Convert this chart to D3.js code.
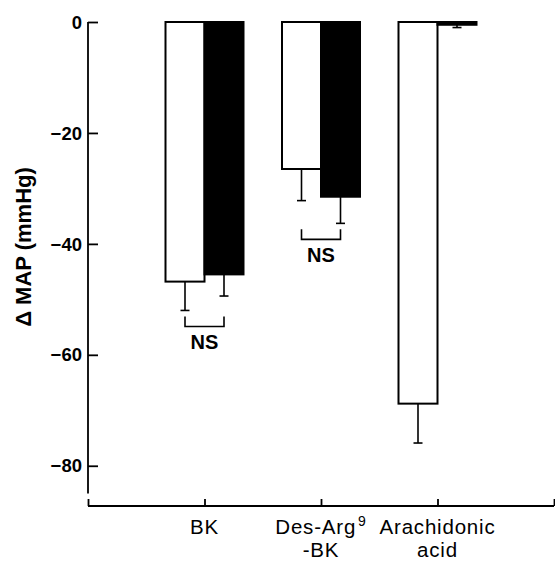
<!DOCTYPE html>
<html>
<head>
<meta charset="utf-8">
<script src="https://cdn.jsdelivr.net/npm/d3@7"></script>
<style>
  html, body { margin: 0; padding: 0; background: #fff; }
  svg { display: block; }
</style>
</head>
<body>
<svg id="chart" width="555" height="562"></svg>
<script>
// data
const categories = ['BK', 'Des-Arg9-BK', 'Arachidonic acid']
const categoryLines = [['BK'], ['Des-Arg^9', '-BK'], ['Arachidonic', 'acid']]
const controlValues = [-46.8, -26.5, -68.8]
const controlErrors = [5.2, 5.7, 7.1]
const treatedValues = [-45.5, -31.5, -0.5]
const treatedErrors = [3.9, 4.8, 0.5]
const nsGroups = [0, 1]
const yTicks = [0, -20, -40, -60, -80]

const width = 555
const height = 562
const font = "'Liberation Sans', Arial, sans-serif"

const svg = d3.select('#chart')

// scales
const x = d3.scaleLinear().domain([0, categories.length + 1]).range([88, 554])
const y = d3.scaleLinear().domain([0, -85]).range([22, 493.5])
const barW = 39

// y axis (ticks point inward)
const yAxis = d3.axisRight(y).tickValues(yTicks).tickSize(10).tickFormat('')
const gy = svg.append('g').attr('transform', 'translate(88,0)').call(yAxis)
gy.select('.domain').attr('d', `M0,${y(0)}V${y(-85)}`)
gy.selectAll('path, line').attr('stroke', '#000').attr('stroke-width', 1.8)

svg
  .append('g')
  .selectAll('text')
  .data(yTicks)
  .join('text')
  .attr('x', 82)
  .attr('y', (d) => y(d))
  .attr('dy', '0.36em')
  .attr('text-anchor', 'end')
  .attr('font-family', font)
  .attr('font-weight', 'bold')
  .attr('font-size', 18.5)
  .text((d) => (d === 0 ? '0' : '\u2212' + Math.abs(d)))

// x axis (separate baseline, ticks pointing up)
const xAxisY = 506
const xAxis = d3
  .axisTop(x)
  .tickValues(d3.range(0, categories.length + 2))
  .tickSize(7)
  .tickFormat('')
const gx = svg.append('g').attr('transform', `translate(0,${xAxisY})`).call(xAxis)
gx.select('.domain').attr('d', `M${x(0)},0H${x(categories.length + 1)}`)
gx.selectAll('path, line').attr('stroke', '#000').attr('stroke-width', 1.8)

// category labels
const labels = svg
  .append('g')
  .attr('font-family', font)
  .attr('font-size', 20.5)
  .attr('letter-spacing', 0.8)
  .attr('text-anchor', 'middle')
  .selectAll('text')
  .data(categoryLines.flatMap((lines, i) => lines.map((l, j) => ({ l, i, j }))))
  .join('text')
  .attr('x', (d) => x(d.i + 1))
  .attr('y', (d) => 534 + d.j * 23)

labels.each(function (d) {
  const t = d3.select(this)
  const parts = d.l.split('^')
  t.append('tspan').text(parts[0])
  if (parts[1]) {
    t.append('tspan').attr('dx', 2).attr('dy', -8).attr('font-size', 14).text(parts[1])
  }
})

// bars
const bars = svg.append('g')
const groups = categories.map((c, i) => ({
  i,
  cx: x(i + 1),
  series: [
    { v: controlValues[i], e: controlErrors[i], fill: '#fff', x0: x(i + 1) - barW },
    { v: treatedValues[i], e: treatedErrors[i], fill: '#000', x0: x(i + 1) },
  ],
}))
const allBars = groups.flatMap((g) => g.series)

// error bars (downward only)
bars
  .selectAll('line.err')
  .data(allBars)
  .join('line')
  .attr('class', 'err')
  .attr('x1', (d) => d.x0 + barW / 2)
  .attr('x2', (d) => d.x0 + barW / 2)
  .attr('y1', (d) => y(d.v))
  .attr('y2', (d) => y(d.v - d.e))
  .attr('stroke', '#000')
  .attr('stroke-width', 1.6)

bars
  .selectAll('line.cap')
  .data(allBars)
  .join('line')
  .attr('class', 'cap')
  .attr('x1', (d) => d.x0 + barW / 2 - 4.5)
  .attr('x2', (d) => d.x0 + barW / 2 + 4.5)
  .attr('y1', (d) => y(d.v - d.e))
  .attr('y2', (d) => y(d.v - d.e))
  .attr('stroke', '#000')
  .attr('stroke-width', 1.6)

bars
  .selectAll('rect')
  .data(allBars)
  .join('rect')
  .attr('x', (d) => d.x0)
  .attr('y', y(0))
  .attr('width', barW)
  .attr('height', (d) => y(d.v) - y(0))
  .attr('fill', (d) => d.fill)
  .attr('stroke', '#000')
  .attr('stroke-width', 2)

// NS brackets
const ns = svg.append('g')
nsGroups.forEach((gi) => {
  const g = groups[gi]
  const xa = g.series[0].x0 + barW / 2
  const xb = g.series[1].x0 + barW / 2
  const top = d3.max(g.series, (s) => y(s.v - s.e)) + 6
  const bottom = top + 10
  ns.append('path')
    .attr('d', `M${xa},${top}V${bottom}H${xb}V${top}`)
    .attr('fill', 'none')
    .attr('stroke', '#000')
    .attr('stroke-width', 1.6)
  ns.append('text')
    .attr('x', g.cx)
    .attr('y', bottom + 23)
    .attr('text-anchor', 'middle')
    .attr('font-family', font)
    .attr('font-weight', 'bold')
    .attr('font-size', 20)
    .text('NS')
})

// y axis title
svg
  .append('text')
  .attr('transform', 'translate(31,247) rotate(-90)')
  .attr('text-anchor', 'middle')
  .attr('font-family', font)
  .attr('font-weight', 'bold')
  .attr('font-size', 22)
  .text('\u0394 MAP (mmHg)')
</script>
</body>
</html>
